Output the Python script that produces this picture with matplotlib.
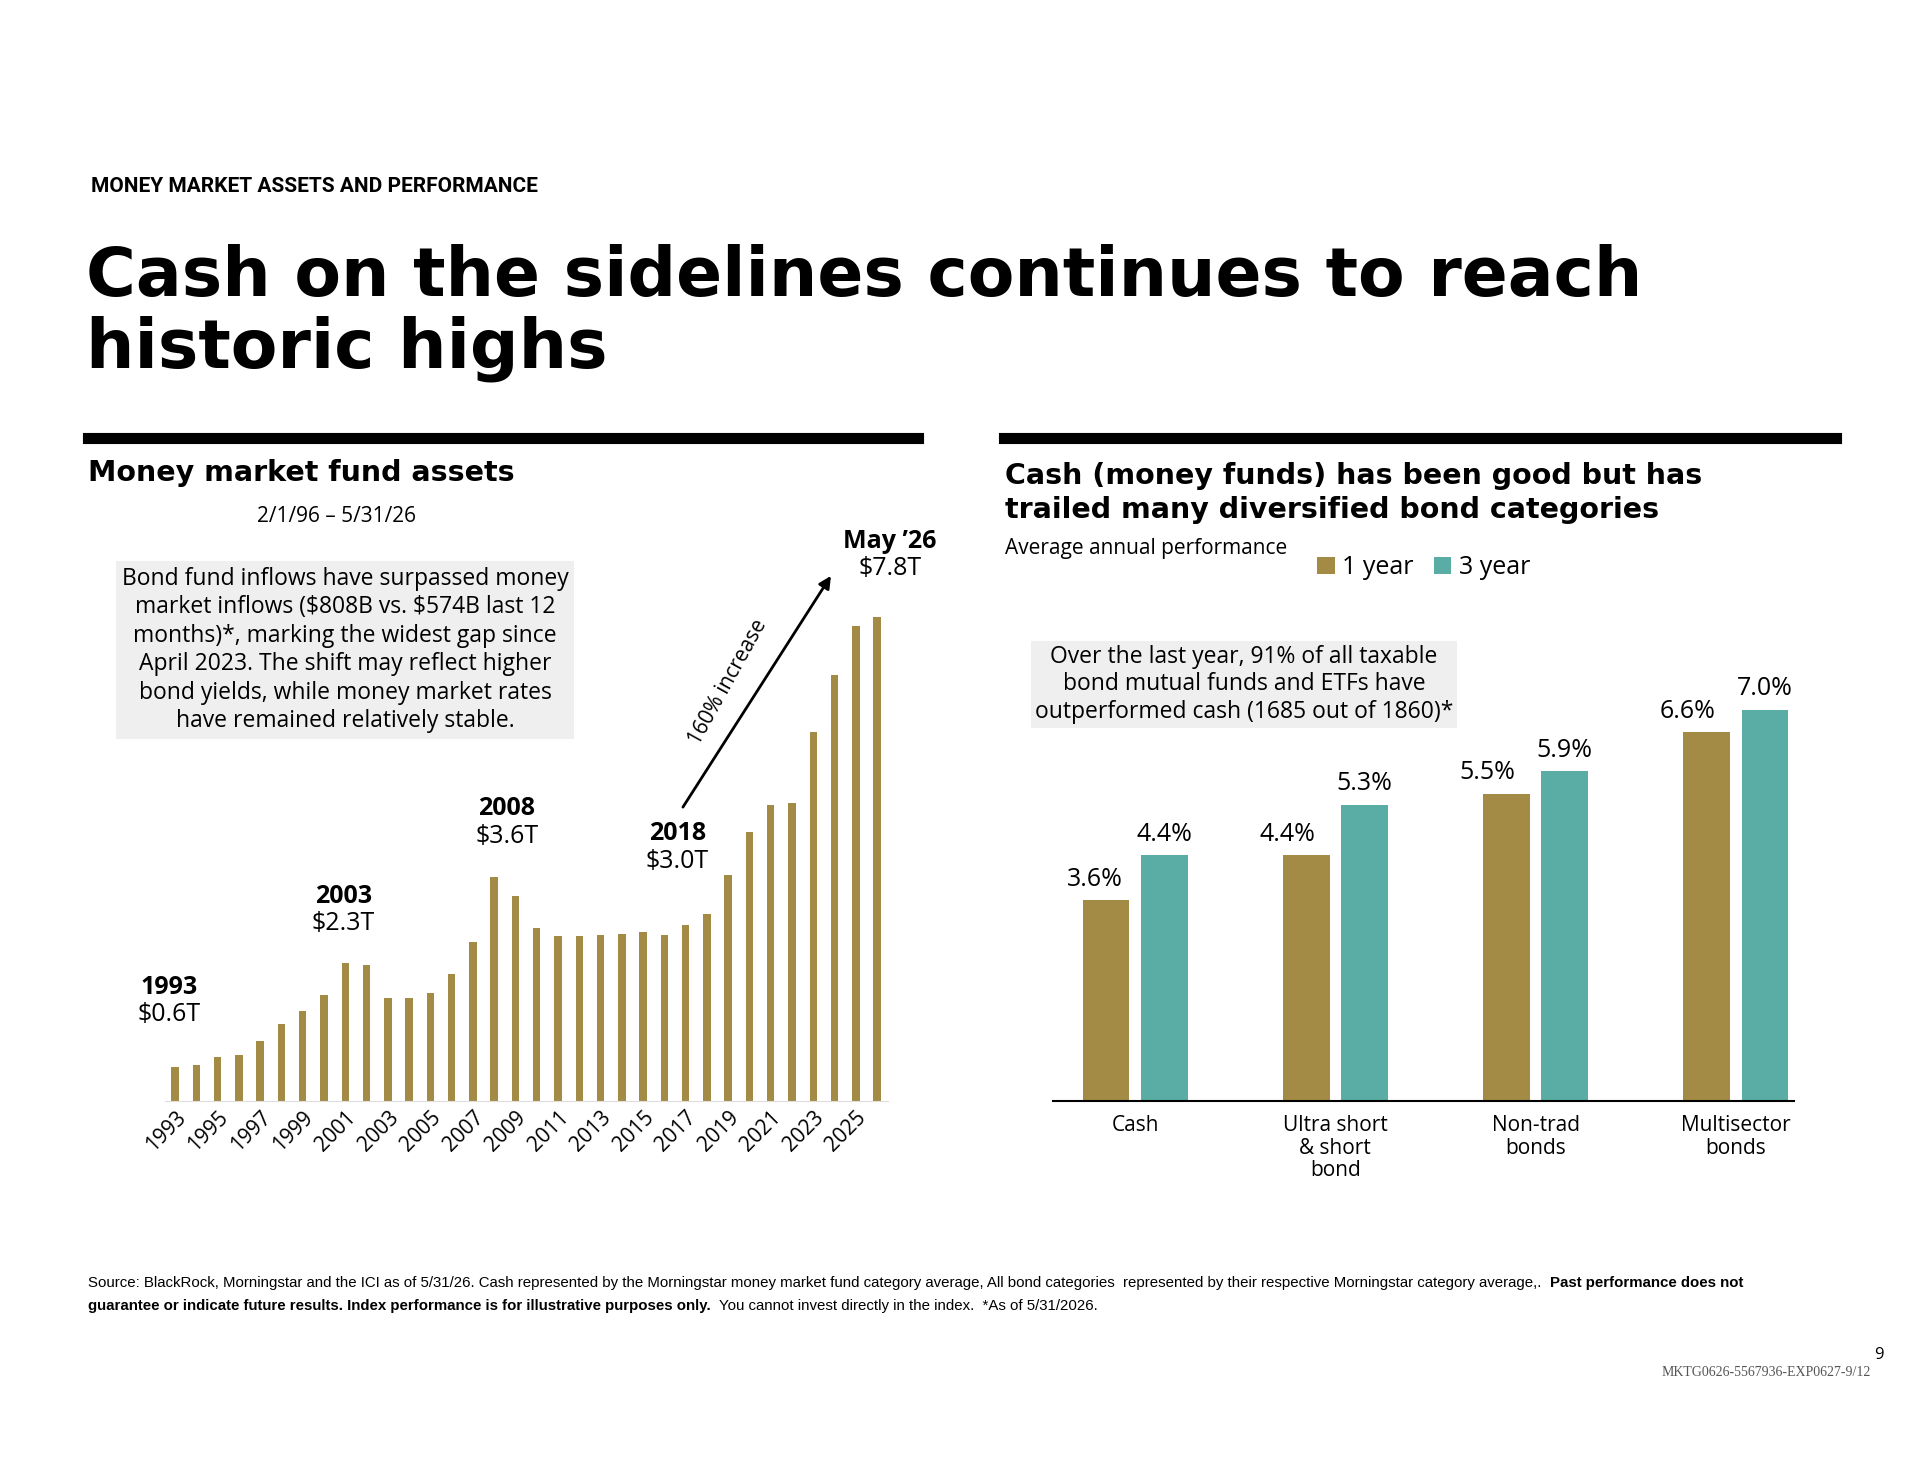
import matplotlib
matplotlib.use("Agg")
import matplotlib.pyplot as plt
import numpy as np

years = list(range(1993, 2027))
assets = [0.55, 0.59, 0.71, 0.75, 0.97, 1.24, 1.46, 1.72, 2.23, 2.20,
          1.66, 1.67, 1.74, 2.05, 2.56, 3.61, 3.31, 2.79, 2.67, 2.67,
          2.68, 2.69, 2.73, 2.68, 2.84, 3.02, 3.64, 4.34, 4.78, 4.80,
          5.95, 6.87, 7.65, 7.80]
tick_years = [str(y) for y in range(1993, 2026, 2)]

categories = ["Cash", "Ultra short\n& short\nbond", "Non-trad\nbonds", "Multisector\nbonds"]
one_year = [3.6, 4.4, 5.5, 6.6]
three_year = [4.4, 5.3, 5.9, 7.0]

GOLD = "#a38b45"
TEAL = "#5aada5"
W, H = 1568, 1210

plt.rcParams["font.family"] = ["Open Sans", "DejaVu Sans"]
plt.rcParams["text.parse_math"] = False

fig = plt.figure(figsize=(19.2, 14.84), dpi=100)
fig.patch.set_facecolor("white")


def fx(x):
    return x / W


def fy(y):
    return 1 - y / H


# header
fig.text(fx(74), fy(152), "MONEY MARKET ASSETS AND PERFORMANCE", fontsize=15,
         fontweight="bold", va="center", family="Roboto")
fig.text(fx(70), fy(255), "Cash on the sidelines continues to reach\nhistoric highs",
         fontsize=49, fontweight="bold", va="center", linespacing=1.1, family="DejaVu Sans")

# section rules
fig.add_artist(plt.Line2D([fx(72), fx(750)], [fy(357), fy(357)], color="black", lw=8))
fig.add_artist(plt.Line2D([fx(820), fx(1499)], [fy(357), fy(357)], color="black", lw=8))

fig.text(fx(72), fy(386), "Money market fund assets", fontsize=20.5, fontweight="bold",
         va="center", family="DejaVu Sans")
fig.text(fx(275), fy(421), "2/1/96 – 5/31/26", fontsize=15, ha="center", va="center")
fig.text(fx(282), fy(530),
         "Bond fund inflows have surpassed money\nmarket inflows ($808B vs. $574B last 12\n"
         "months)*, marking the widest gap since\nApril 2023. The shift may reflect higher\n"
         "bond yields, while money market rates\nhave remained relatively stable.",
         fontsize=16.5, ha="center", va="center", linespacing=1.25,
         bbox=dict(facecolor="#efefef", edgecolor="none", pad=4))

fig.text(fx(821), fy(402), "Cash (money funds) has been good but has\ntrailed many diversified bond categories",
         fontsize=20.5, fontweight="bold", va="center", linespacing=1.3, family="DejaVu Sans")
fig.text(fx(821), fy(447), "Average annual performance", fontsize=15, va="center")
fig.text(fx(1016), fy(558),
         "Over the last year, 91% of all taxable\nbond mutual funds and ETFs have\n"
         "outperformed cash (1685 out of 1860)*",
         fontsize=16.5, ha="center", va="center", linespacing=1.2,
         bbox=dict(facecolor="#efefef", edgecolor="none", pad=3))

# left chart
ax1 = fig.add_axes([fx(135), fy(898), fx(725) - fx(135), (898 - 498) / H])
x = np.arange(len(years))
ax1.bar(x, assets, width=0.35, color=GOLD)
ax1.set_xlim(-0.46, 33.5)
ax1.set_ylim(0, 7.9)
ax1.set_yticks([])
for s in ["top", "right", "left"]:
    ax1.spines[s].set_visible(False)
ax1.spines["bottom"].set_color("#dddddd")
ax1.set_xticks(x[::2])
ax1.set_xticklabels(tick_years, rotation=45, ha="right", rotation_mode="anchor", fontsize=15)
ax1.tick_params(axis="x", length=0, pad=4)

callouts = [(-0.3, 1.62, "1993", "$0.6T"), (7.9, 3.08, "2003", "$2.3T"),
            (15.6, 4.49, "2008", "$3.6T"), (23.6, 4.09, "2018", "$3.0T"),
            (33.6, 8.8, "May \u201926", "$7.8T")]
for cx, cy, yr, val in callouts:
    ax1.text(cx, cy + 0.02, yr, fontsize=18, fontweight="bold", ha="center", va="bottom",
             clip_on=False)
    ax1.text(cx, cy - 0.02, val, fontsize=18, ha="center", va="top", clip_on=False)
ax1.annotate("", xy=(30.9, 8.5), xytext=(23.8, 4.7),
             arrowprops=dict(arrowstyle="-|>", color="black", lw=2, mutation_scale=18),
             annotation_clip=False)
ax1.text(26.0, 6.75, "160% increase", fontsize=15, rotation=61, ha="center", va="center")

# right chart
ax2 = fig.add_axes([fx(860), fy(898), fx(1465) - fx(860), (898 - 533) / H])
g = np.arange(len(categories))
b1 = ax2.bar(g - 0.145, one_year, width=0.233, color=GOLD, label="1 year")
b2 = ax2.bar(g + 0.145, three_year, width=0.233, color=TEAL, label="3 year")
ax2.set_xlim(-0.41, 3.29)
ax2.set_ylim(0, 8)
ax2.set_yticks([])
for s in ["top", "right", "left"]:
    ax2.spines[s].set_visible(False)
ax2.spines["bottom"].set_linewidth(1.5)
ax2.set_xticks(g)
ax2.set_xticklabels(categories, fontsize=15, va="top", linespacing=1.1)
ax2.tick_params(axis="x", length=0, pad=10)
for i, (a, b) in enumerate(zip(one_year, three_year)):
    if i == 0:
        ax2.text(i - 0.2, a + 0.15, f"{a}%", fontsize=18, ha="center", va="bottom")
    else:
        ax2.text(i - 0.1, a + 0.15, f"{a}%", fontsize=18, ha="right", va="bottom")
    ax2.text(i + 0.145, b + 0.15, f"{b}%", fontsize=18, ha="center", va="bottom")
ax2.legend(handles=[b1, b2], loc="upper center", bbox_to_anchor=(0.5, 1.27), ncol=2,
           frameon=False, fontsize=18, handlelength=0.7, handleheight=0.7,
           handletextpad=0.3, columnspacing=0.8)

# footnotes, drawn as runs of regular and bold text
renderer = fig.canvas.get_renderer()


def text_run(y, parts, x0=fx(72)):
    xpos = x0
    for s, bold in parts:
        t = fig.text(xpos, y, s, fontsize=10.8, va="center", family="Liberation Sans",
                     fontweight="bold" if bold else "normal")
        bb = t.get_window_extent(renderer)
        xpos += bb.width / fig.bbox.width


text_run(fy(1046), [
    ("Source: BlackRock, Morningstar and the ICI as of 5/31/26. Cash represented by the Morningstar "
     "money market fund category average, All bond categories  represented by their respective "
     "Morningstar category average,.  ", False),
    ("Past performance does not", True)])
text_run(fy(1065), [
    ("guarantee or indicate future results. Index performance is for illustrative purposes only.", True),
    ("  You cannot invest directly in the index.  *As of 5/31/2026.", False)])
fig.text(fx(1538), fy(1105), "9", fontsize=12, ha="right", va="center")
fig.text(fx(1528), fy(1119), "MKTG0626-5567936-EXP0627-9/12", fontsize=10, ha="right",
         va="center", family="Liberation Serif", color="#555555")

fig.savefig("out.png", dpi=100, facecolor="white")
